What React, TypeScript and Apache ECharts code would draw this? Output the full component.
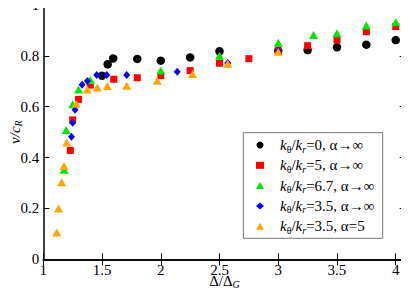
import React, { useEffect, useRef } from "react";
import * as echarts from "echarts";

const FONT = '"Liberation Serif", "Times New Roman", serif';

const xTicks = [1, 1.5, 2, 2.5, 3, 3.5, 4];

// series data: [Δ/Δ_G, v/c_R]
const blackCircles: number[][] = [
  [1.5, 0.722], [1.548, 0.767], [1.595, 0.79], [1.8, 0.788], [2.0, 0.781],
  [2.25, 0.794], [2.5, 0.818], [3.0, 0.82], [3.25, 0.823], [3.5, 0.834],
  [3.75, 0.844], [4.0, 0.862],
];
const redSquares: number[][] = [
  [1.23, 0.428], [1.25, 0.548], [1.3, 0.629], [1.4, 0.685], [1.6, 0.708],
  [1.8, 0.714], [2.0, 0.722], [2.25, 0.742], [2.5, 0.771], [2.75, 0.789],
  [3.0, 0.82], [3.25, 0.84], [3.5, 0.862], [3.75, 0.895], [4.0, 0.915],
];
const greenTriangles: number[][] = [
  [1.178, 0.352], [1.195, 0.508], [1.25, 0.61], [1.3, 0.668], [1.4, 0.705],
  [2.0, 0.742], [2.5, 0.8], [3.0, 0.852], [3.3, 0.882], [3.5, 0.889],
  [3.75, 0.919], [4.0, 0.932],
];
const blueDiamonds: number[][] = [
  [1.24, 0.482], [1.25, 0.537], [1.27, 0.588], [1.33, 0.686], [1.375, 0.701],
  [1.455, 0.725], [1.54, 0.725], [1.71, 0.725], [2.14, 0.738], [2.57, 0.772],
  [3.0, 0.82],
];
const orangeTriangles: number[][] = [
  [1.114, 0.105], [1.13, 0.2], [1.156, 0.303], [1.176, 0.367], [1.2, 0.459],
  [1.28, 0.612], [1.375, 0.668], [1.46, 0.676], [1.545, 0.681], [1.71, 0.682],
  [1.97, 0.702], [2.27, 0.729], [2.57, 0.769], [3.0, 0.816],
];

const seriesNames = ["s0", "s1", "s2", "s3", "s4"];
const ratios = ["0", "5", "6.7", "3.5", "3.5"];
const alphas = ["α→∞", "α→∞", "α→∞", "α→∞", "α=5"];
const colors = ["#000000", "#ff0000", "#00e600", "#0000ff", "#ffa500"];
const symbols = ["circle", "rect", "triangle", "diamond", "triangle"];
const symbolSizes: any[] = [8.5, 7, [9, 8], [7, 8], [9, 8]];
const dataSets = [blackCircles, redSquares, greenTriangles, blueDiamonds, orangeTriangles];

// the chart container starts 10px above the page top
const OFF = 10;

export default function App() {
  const ref = useRef<HTMLDivElement>(null);
  useEffect(() => {
    if (!ref.current) return;
    const chart = echarts.init(ref.current, null, { renderer: "svg" });
    const axisLine = { show: true, lineStyle: { color: "#000", width: 1.5 } };
    const tick = { show: true, inside: true, length: 6, lineStyle: { color: "#000", width: 1 } };
    const subRich = {
      n: { fontFamily: FONT, fontSize: 15, color: "#000", lineHeight: 16 },
      i: { fontFamily: FONT, fontSize: 15, fontStyle: "italic", color: "#000", lineHeight: 16 },
      s: { fontFamily: FONT, fontSize: 10, fontStyle: "italic", color: "#000", lineHeight: 10, padding: [8, 0, 0, 0] },
      su: { fontFamily: FONT, fontSize: 10, color: "#000", lineHeight: 10, padding: [8, 0, 0, 0] },
    };
    const nameRich = {
      n: { fontFamily: FONT, fontSize: 15, color: "#000", lineHeight: 14 },
      i: { fontFamily: FONT, fontSize: 15, fontStyle: "italic", color: "#000", lineHeight: 14 },
      s: { fontFamily: FONT, fontSize: 10, fontStyle: "italic", color: "#000", lineHeight: 8, padding: [6, 0, 0, 0] },
    };
    const option: any = {
      animation: false,
      textStyle: { fontFamily: FONT },
      grid: { left: 43.3, right: 3.3, top: 5 + OFF, bottom: 36.7, containLabel: false, outerBoundsMode: "none" },
      xAxis: [
        {
          type: "value", min: 1, max: 4.085, interval: 0.5,
          axisLine, axisTick: tick, splitLine: { show: false },
          axisLabel: {
            fontFamily: FONT, fontSize: 15, lineHeight: 14, color: "#000", margin: 4,
            showMinLabel: true, hideOverlap: false,
            formatter: (v: number) => (xTicks.some((t) => Math.abs(t - v) < 1e-6) ? String(v) : ""),
          },
          name: "{n|Δ/Δ}{s|G}", nameLocation: "middle", nameGap: 15, nameMoveOverlap: false,
          nameTextStyle: { fontFamily: FONT, rich: nameRich },
        },
        {
          type: "value", min: 1, max: 4.085, interval: 0.5, position: "top",
          axisLine, axisTick: tick, axisLabel: { show: false }, splitLine: { show: false },
        },
      ],
      yAxis: [
        {
          type: "value", min: 0, max: 1, interval: 0.2,
          axisLine, axisTick: tick, splitLine: { show: false },
          axisLabel: {
            fontFamily: FONT, fontSize: 15, color: "#000", margin: 4,
            verticalAlign: "middle", verticalAlignMaxLabel: "middle", verticalAlignMinLabel: "middle",
            showMinLabel: true, showMaxLabel: true, hideOverlap: false,
            formatter: (v: number) => String(v),
          },
          name: "{i|v/c}{s|R}", nameLocation: "middle", nameGap: 21, nameRotate: 90, nameMoveOverlap: false,
          nameTextStyle: { fontFamily: FONT, rich: nameRich },
        },
        {
          type: "value", min: 0, max: 1, interval: 0.2, position: "right",
          axisLine, axisTick: tick, axisLabel: { show: false }, splitLine: { show: false },
        },
      ],
      legend: {
        orient: "vertical", left: 256, top: 136 + OFF, padding: 0, itemGap: 2.3,
        itemWidth: 8, itemHeight: 7,
        data: seriesNames.map((n, k) => ({ name: n, icon: symbols[k] })),
        formatter: (name: string) => {
          const k = seriesNames.indexOf(name);
          return `{i|k}{su|θ}{n|/}{i|k}{s|r}{n|=${ratios[k]}, ${alphas[k]}}`;
        },
        textStyle: { fontFamily: FONT, padding: [0, 0, 0, 11], rich: subRich },
      },
      graphic: [
        {
          type: "rect", shape: { x: 243.3, y: 132.7 + OFF, width: 139.4, height: 105.6 },
          style: { fill: "rgba(0,0,0,0)", stroke: "#777", lineWidth: 1 }, z: 0,
        },
      ],
      series: dataSets.map((d, k) => ({
        name: seriesNames[k], type: "scatter", data: d,
        symbol: symbols[k], symbolSize: symbolSizes[k],
        itemStyle: { color: colors[k], opacity: 1 },
      })),
    };
    chart.setOption(option);
    return () => chart.dispose();
  }, []);
  return (
    <div
      ref={ref}
      style={{ width: 409, height: 296 + OFF, marginLeft: -8, marginTop: -8 - OFF, marginBottom: 0 }}
    />
  );
}
